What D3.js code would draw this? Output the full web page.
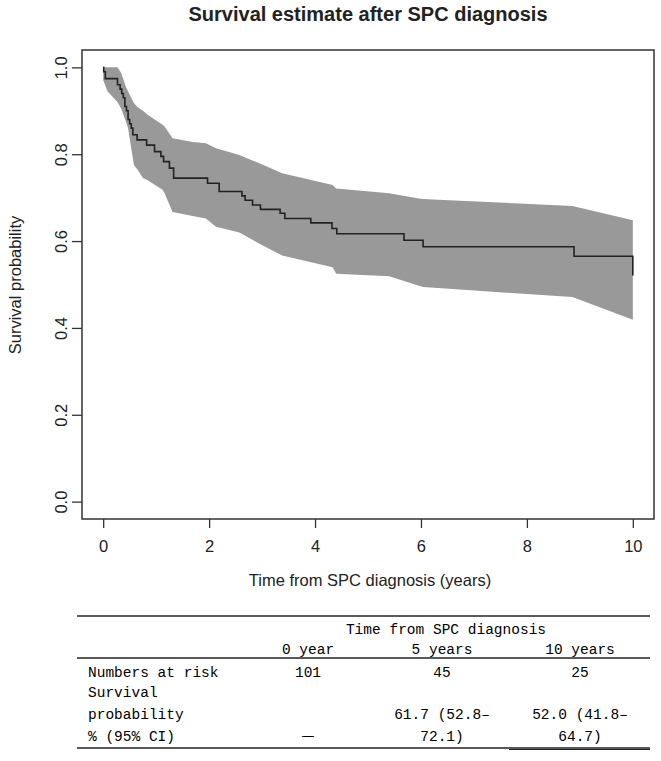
<!DOCTYPE html>
<html>
<head>
<meta charset="utf-8">
<script src="https://cdn.jsdelivr.net/npm/d3@7"></script>
<style>
  body { margin: 0; background: #fff; }
</style>
</head>
<body>
<div class="km-plot"></div>
<script>
// Kaplan-Meier estimate (step points)
const kmTime = [0, 0.01, 0.04, 0.27, 0.32, 0.35, 0.38, 0.41, 0.44, 0.47, 0.50, 0.53, 0.56, 0.64, 0.82, 0.97, 1.09, 1.14, 1.25, 1.33,
  1.97, 2.19, 2.62, 2.68, 2.82, 2.97, 3.34, 3.43, 3.92, 4.32, 4.41, 5.68, 6.04, 8.89, 10]
const kmSurv = [1.0, 0.99, 0.974, 0.96, 0.95, 0.94, 0.93, 0.91, 0.90, 0.88, 0.87, 0.86, 0.845, 0.833, 0.821, 0.806, 0.795, 0.783, 0.768, 0.745,
  0.733, 0.714, 0.704, 0.694, 0.683, 0.673, 0.664, 0.652, 0.642, 0.629, 0.617, 0.602, 0.587, 0.565, 0.521]

// 95% confidence band
const ciTime = [0, 0.08, 0.27, 0.34, 0.43, 0.47, 0.53, 0.58, 0.65, 0.75, 0.84, 1.12, 1.16, 1.31, 1.69, 1.94, 2.13, 2.57, 2.95,
  3.38, 4.33, 4.40, 5.40, 5.96, 6.04, 6.53, 8.86, 10]
const ciUpper = [1.0, 1.0, 1.0, 0.987, 0.955, 0.945, 0.93, 0.918, 0.908, 0.90, 0.891, 0.868, 0.864, 0.837, 0.828, 0.825, 0.814, 0.798, 0.779,
  0.756, 0.729, 0.721, 0.710, 0.698, 0.697, 0.694, 0.681, 0.648]
const ciLower = [0.971, 0.945, 0.92, 0.905, 0.875, 0.86, 0.814, 0.775, 0.764, 0.745, 0.74, 0.718, 0.71, 0.667, 0.658, 0.652, 0.633, 0.62, 0.594,
  0.567, 0.540, 0.525, 0.519, 0.497, 0.494, 0.490, 0.471, 0.419]

const xTicks = [0, 2, 4, 6, 8, 10]
const yTicks = [0, 0.2, 0.4, 0.6, 0.8, 1.0]

// summary table under the plot
const tableHeader = "Time from SPC diagnosis"
const tableCols = ["0 year", "5 years", "10 years"]
const rowLabels = ["Numbers at risk", "Survival", "probability", "% (95% CI)"]
const atRisk = ["101", "45", "25"]
const survLine1 = ["", "61.7 (52.8–", "52.0 (41.8–"]
const survLine2 = ["—", "72.1)", "64.7)"]

const W = 661, H = 761
const sans = "'Liberation Sans', Arial, sans-serif"
const svg = d3.select(".km-plot")
  .append("svg")
  .attr("width", W)
  .attr("height", H)
  .style("font-family", sans)

// plot box: R style 4% padding around data range
const x = d3.scaleLinear().domain([-0.4, 10.4]).range([82, 654])
const y = d3.scaleLinear().domain([-0.04, 1.04]).range([519, 50])

// title, centred over the plot region
svg.append("text")
  .attr("x", 368).attr("y", 21)
  .attr("text-anchor", "middle")
  .style("font-size", "20px").style("font-weight", "bold").style("fill", "#222")
  .text("Survival estimate after SPC diagnosis")

// CI band
const ci = ciTime.map((t, i) => ({ t: t, lo: ciLower[i], hi: ciUpper[i] }))
svg.append("path")
  .datum(ci)
  .attr("fill", "#999999")
  .attr("d", d3.area()
    .x(d => x(d.t))
    .y0(d => y(d.lo))
    .y1(d => y(d.hi)))

// KM step line
const km = kmTime.map((t, i) => [t, kmSurv[i]])
svg.append("path")
  .datum(km)
  .attr("fill", "none")
  .attr("stroke", "#222")
  .attr("stroke-width", 1.6)
  .attr("d", d3.line()
    .curve(d3.curveStepAfter)
    .x(d => x(d[0]))
    .y(d => y(d[1])))

// frame
svg.append("rect")
  .attr("x", 82).attr("y", 50)
  .attr("width", 654 - 82).attr("height", 519 - 50)
  .attr("fill", "none").attr("stroke", "#333").attr("stroke-width", 1.5)

// x axis
const xAxis = svg.append("g")
  .attr("transform", "translate(0,519)")
  .call(d3.axisBottom(x).tickValues(xTicks).tickSize(9).tickPadding(12).tickFormat(d3.format("d")))
xAxis.select(".domain").remove()
xAxis.selectAll("line").attr("stroke", "#333").attr("stroke-width", 1.3)
xAxis.selectAll("text").style("font-size", "16.5px").style("fill", "#222")
  .style("font-family", sans)

// y axis, labels parallel to the axis
const yAxis = svg.append("g")
  .attr("transform", "translate(82,0)")
  .call(d3.axisLeft(y).tickValues(yTicks).tickSize(10).tickFormat(d3.format(".1f")))
yAxis.select(".domain").remove()
yAxis.selectAll("line").attr("stroke", "#333").attr("stroke-width", 1.3)
yAxis.selectAll("text")
  .attr("x", null).attr("dy", null)
  .attr("transform", "translate(-11,0) rotate(-90)")
  .attr("text-anchor", "middle")
  .attr("y", -4)
  .style("font-size", "16.5px").style("fill", "#222")
  .style("font-family", sans)

// axis titles
svg.append("text")
  .attr("x", 370).attr("y", 586)
  .attr("text-anchor", "middle")
  .style("font-size", "16.5px").style("fill", "#222")
  .text("Time from SPC diagnosis (years)")

svg.append("text")
  .attr("transform", "translate(21,285) rotate(-90)")
  .attr("text-anchor", "middle")
  .style("font-size", "16.5px").style("fill", "#222")
  .text("Survival probability")

// table
const tbl = svg.append("g")
  .style("font-family", "'Liberation Mono', 'DejaVu Sans Mono', monospace")
  .style("font-size", "14.5px")
  .style("fill", "#000")
const colX = [308, 442, 580]
const rules = [616, 658, 748]
rules.forEach(r => {
  tbl.append("line")
    .attr("x1", 77).attr("x2", 650)
    .attr("y1", r).attr("y2", r)
    .attr("stroke", "#222").attr("stroke-width", 1.6)
})
// the bottom rule is doubled under the last column
tbl.append("line")
  .attr("x1", 509).attr("x2", 650)
  .attr("y1", 749.5).attr("y2", 749.5)
  .attr("stroke", "#222").attr("stroke-width", 1)

tbl.append("text").attr("x", 446).attr("y", 634).attr("text-anchor", "middle").text(tableHeader)
tableCols.forEach((c, i) => {
  tbl.append("text").attr("x", colX[i]).attr("y", 654).attr("text-anchor", "middle").text(c)
})
const rowY = [677, 697, 719, 741]
rowLabels.forEach((r, i) => {
  tbl.append("text").attr("x", 88).attr("y", rowY[i]).text(r)
})
atRisk.forEach((v, i) => {
  tbl.append("text").attr("x", colX[i]).attr("y", rowY[0]).attr("text-anchor", "middle").text(v)
})
survLine1.forEach((v, i) => {
  tbl.append("text").attr("x", colX[i]).attr("y", rowY[2]).attr("text-anchor", "middle").text(v)
})
survLine2.forEach((v, i) => {
  tbl.append("text").attr("x", colX[i]).attr("y", rowY[3]).attr("text-anchor", "middle")
    .style("font-family", v === "—" ? "'Noto Sans CJK SC', sans-serif" : null)
    .text(v)
})
</script>
</body>
</html>
